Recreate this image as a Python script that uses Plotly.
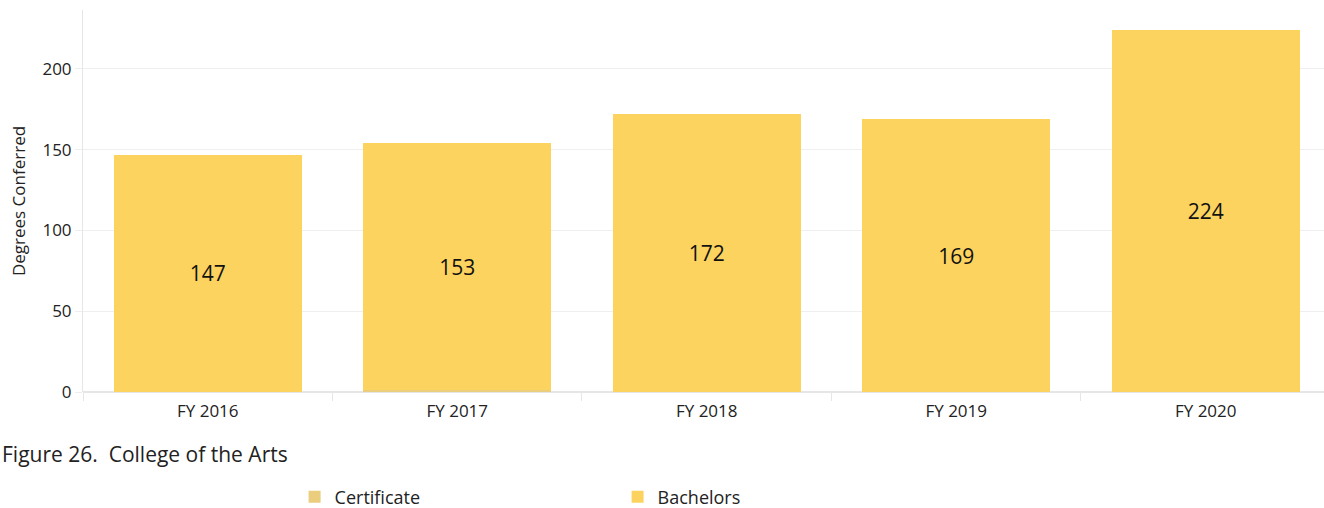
import plotly.graph_objects as go

years = ["FY 2016", "FY 2017", "FY 2018", "FY 2019", "FY 2020"]
bachelors = [147, 153, 172, 169, 224]
certificate = [0, 1, 0, 0, 0]

FONT = "Open Sans"

fig = go.Figure()
fig.add_trace(go.Bar(
    name="Certificate", x=years, y=certificate,
    marker=dict(color="#EACD7D", line=dict(width=0)),
    hoverinfo="x+y",
))
fig.add_trace(go.Bar(
    name="Bachelors", x=years, y=bachelors,
    marker=dict(color="#FDD35F", line=dict(width=0)),
    text=[str(v) for v in bachelors], textposition="inside",
    insidetextanchor="middle",
    textfont=dict(family=FONT, size=21, color="#111111"),
))

fig.update_layout(
    barmode="stack",
    bargap=0.245,
    width=1324, height=508,
    margin=dict(l=83, r=0, t=10, b=116, autoexpand=False),
    paper_bgcolor="white", plot_bgcolor="white",
    font=dict(family=FONT, size=17, color="#222222"),
    xaxis=dict(
        range=[-0.5, 4.474], automargin=False,
        tickson="boundaries", ticks="outside", ticklen=8, tickcolor="#e6e6e6",
        ticklabelstandoff=7,
        showgrid=False, showline=False, zeroline=False,
        tickfont=dict(size=17, color="#222222"),
    ),
    yaxis=dict(
        range=[0, 236.5], automargin=False,
        tickvals=[0, 50, 100, 150, 200],
        ticks="outside", ticklen=7, tickcolor="#eeeeee",
        gridcolor="#efefef", gridwidth=1,
        showline=True, linecolor="#e6e6e6", linewidth=1,
        zeroline=True, zerolinecolor="#e6e6e6",
        tickfont=dict(size=17, color="#222222"),
        title=dict(text="Degrees Conferred", font=dict(size=17, color="#222222"), standoff=12),
    ),
    showlegend=True,
    legend=dict(
        orientation="h", x=0.1705, xanchor="left",
        yref="container", y=0.0217, yanchor="middle",
        entrywidth=278, entrywidthmode="pixels",
        font=dict(size=18, color="#222222"),
        traceorder="normal",
    ),
    annotations=[dict(
        text="Figure 26.  College of the Arts", xref="paper", yref="paper",
        x=-0.0665, y=-0.162, xanchor="left", yanchor="middle", showarrow=False,
        font=dict(size=21, color="#222222"),
    )],
)

fig.write_html("out.html", config={"displayModeBar": False},
               post_script="document.body.style.margin='0';")
